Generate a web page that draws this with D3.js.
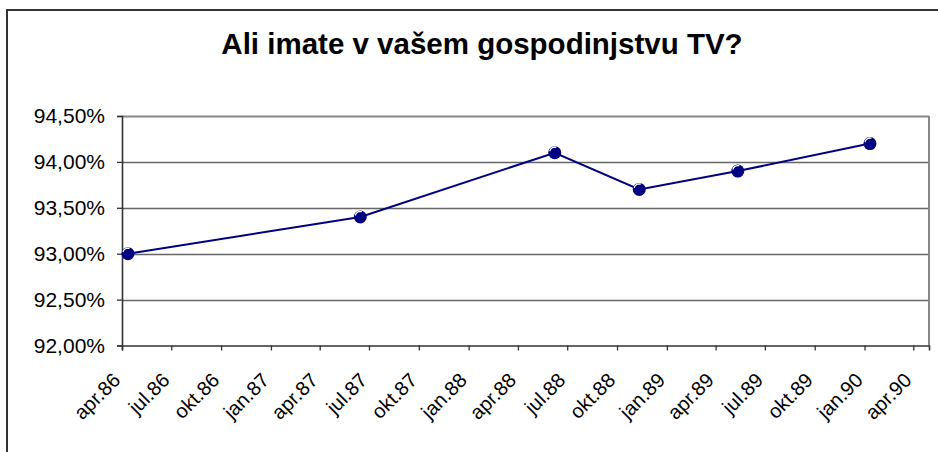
<!DOCTYPE html>
<html>
<head>
<meta charset="utf-8">
<script src="https://cdn.jsdelivr.net/npm/d3@7"></script>
<style>
  body { margin: 0; background: #fff; }
  text { font-family: Arial, "Liberation Sans", sans-serif; }
</style>
</head>
<body>
<svg width="938" height="452"></svg>
<script>
var svg = d3.select("svg"),
    width = +svg.attr("width"),
    height = +svg.attr("height");

// survey dates and share of households with a TV
var dates = ["1986-04-12", "1987-06-15", "1988-06-08", "1988-11-11", "1989-05-12", "1990-01-11"];
var values = [93.0, 93.4, 94.1, 93.7, 93.9, 94.2];
var yTicks = [92.0, 92.5, 93.0, 93.5, 94.0, 94.5];
var months = ["jan", "feb", "mar", "apr", "maj", "jun", "jul", "avg", "sep", "okt", "nov", "dec"];

var parse = d3.timeParse("%Y-%m-%d");
var data = dates.map(function (d, i) { return {date: parse(d), value: values[i]}; });

var plotL = 122, plotR = 929, plotT = 116, plotB = 345.5;

var x = d3.scaleTime()
    .domain([new Date(1986, 3, 1), new Date(1990, 3, 30)])
    .range([plotL, plotR]);
var y = d3.scaleLinear()
    .domain([92, 94.5])
    .range([plotB, plotT]);

// outer chart frame (cropped)
svg.append("path")
    .attr("d", "M7," + height + "V10H" + width)
    .attr("fill", "none")
    .attr("stroke", "#333")
    .attr("stroke-width", 2);

svg.append("text")
    .attr("x", 482)
    .attr("y", 54)
    .attr("text-anchor", "middle")
    .attr("font-size", 29.5)
    .attr("font-weight", "bold")
    .text("Ali imate v vašem gospodinjstvu TV?");

// grid
svg.append("g")
    .selectAll("line")
    .data(yTicks.slice(1))
    .enter().append("line")
    .attr("x1", plotL).attr("x2", plotR)
    .attr("y1", function (d) { return Math.round(y(d)) + 0.5; })
    .attr("y2", function (d) { return Math.round(y(d)) + 0.5; })
    .attr("stroke", function (d) { return d == 94.5 ? "#888" : "#666"; })
    .attr("stroke-width", function (d) { return d == 94.5 ? 2 : 1.3; });

svg.append("line")
    .attr("x1", plotR).attr("x2", plotR)
    .attr("y1", plotT).attr("y2", plotB)
    .attr("stroke", "#888")
    .attr("stroke-width", 2);

var fmt = function (d) { return d3.format(".2f")(d).replace(".", ",") + "%"; };

var yAxis = svg.append("g")
    .attr("transform", "translate(" + plotL + ",0)")
    .call(d3.axisLeft(y).tickValues(yTicks).tickFormat(fmt).tickSize(5).tickPadding(12));

var xAxis = svg.append("g")
    .attr("transform", "translate(0," + plotB + ")")
    .call(d3.axisBottom(x)
        .ticks(d3.timeMonth.every(3))
        .tickFormat(function (d) { return months[d.getMonth()] + "." + d3.timeFormat("%y")(d); })
        .tickSize(5));

[yAxis, xAxis].forEach(function (a) {
    a.select(".domain").attr("stroke", "#333").attr("stroke-width", 1.6);
    a.selectAll(".tick line").attr("stroke", "#333").attr("stroke-width", 1.3);
    a.selectAll("text").attr("fill", "#000")
        .style("font-family", "Arial, 'Liberation Sans', sans-serif");
});

yAxis.selectAll("text").attr("font-size", 21);

xAxis.selectAll(".tick text")
    .attr("font-size", 20)
    .attr("text-anchor", "end")
    .attr("x", 0)
    .attr("y", 0)
    .attr("dy", 0)
    .attr("transform", "translate(-1,36) rotate(-45)");

// series
svg.append("path")
    .datum(data)
    .attr("fill", "none")
    .attr("stroke", "#000080")
    .attr("stroke-width", 2)
    .attr("d", d3.line()
        .x(function (d) { return x(d.date); })
        .y(function (d) { return y(d.value); }));

var pts = svg.append("g")
    .selectAll("g")
    .data(data)
    .enter().append("g")
    .attr("transform", function (d) { return "translate(" + x(d.date) + "," + y(d.value) + ")"; });

pts.append("circle")
    .attr("r", 6.5)
    .attr("fill", "#000080");
pts.append("path")
    .attr("d", "M-5,-1.5A5.5,5.5 0 0 1 1.5,-5.3A5,5 0 0 0 -5,-1.5Z")
    .attr("fill", "none")
    .attr("stroke", "#fff")
    .attr("stroke-width", 1.2);
</script>
</body>
</html>
